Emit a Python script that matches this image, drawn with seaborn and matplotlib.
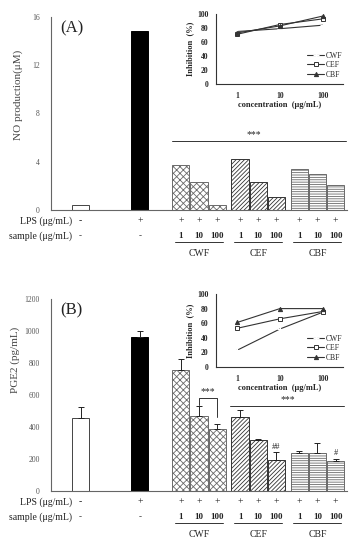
import numpy as np
import pandas as pd
import matplotlib
matplotlib.use("Agg")
import matplotlib.pyplot as plt
import seaborn as sns

sns.set_theme(style="white")
plt.rcParams['font.family'] = ['Liberation Serif', 'DejaVu Serif']
plt.rcParams['hatch.linewidth'] = 0.6

# ---------------- data ----------------
categories = ["ctrl", "LPS", "CWF", "CEF", "CBF"]
concs = ["1", "10", "100"]
groups = ["CWF", "CEF", "CBF"]

no_ctrl = 0.4
no_lps = 14.8
no_cwf = [3.75, 2.3, 0.42]
no_cef = [4.25, 2.35, 1.1]
no_cbf = [3.4, 2.95, 2.1]

pge_ctrl, pge_ctrl_sd = 455, 72
pge_lps, pge_lps_sd = 960, 37
pge_cwf = [755, 470, 388]
pge_cwf_sd = [68, 62, 33]
pge_cef = [460, 320, 195]
pge_cef_sd = [45, 8, 46]
pge_cbf = [236, 240, 190]
pge_cbf_sd = [15, 60, 9]

inh_conc = [1, 10, 100]
inhA_cwf = [75, 79, 84]
inhA_cef = [71, 85, 93]
inhA_cbf = [73, 83, 97]
inhB_cwf = [23, 52, 75]
inhB_cef = [53, 66, 76]
inhB_cbf = [61, 80, 80]

lps_row = ["-", "+", "+", "+", "+", "+", "+", "+", "+", "+", "+"]
sample_row = ["-", "-", "1", "10", "100", "1", "10", "100", "1", "10", "100"]


def make_df(ctrl, lps, g1, g2, g3, sd=None):
    rows = [("ctrl", "10", ctrl, sd[0] if sd else 0),
            ("LPS", "10", lps, sd[1] if sd else 0)]
    for gi, vals in enumerate([g1, g2, g3]):
        for ci, v in enumerate(vals):
            s = sd[2 + gi][ci] if sd else 0
            rows.append((groups[gi], concs[ci], v, s))
    return pd.DataFrame(rows, columns=["cat", "conc", "val", "sd"])


dfA = make_df(no_ctrl, no_lps, no_cwf, no_cef, no_cbf)
dfB = make_df(pge_ctrl, pge_lps, pge_cwf, pge_cef, pge_cbf,
              sd=[pge_ctrl_sd, pge_lps_sd, pge_cwf_sd, pge_cef_sd, pge_cbf_sd])

W, H = 350, 538
fig = plt.figure(figsize=(W / 100, H / 100), dpi=100)


def fr(l, t, r, b):
    return [l / W, 1 - b / H, (r - l) / W, (b - t) / H]


styles = {
    "ctrl": dict(facecolor="white", edgecolor="#444444", hatch=None),
    "LPS": dict(facecolor="black", edgecolor="black", hatch=None),
    "CWF": dict(facecolor="white", edgecolor="#6a6a6a", hatch="xxxxx"),
    "CEF": dict(facecolor="white", edgecolor="#333333", hatch="////////"),
    "CBF": dict(facecolor="white", edgecolor="#6a6a6a", hatch="-------"),
}


def main_panel(rect, df, ylim, yticks, letter, ylabel, ylabel_xy, errors=False):
    ax = fig.add_axes(rect)
    sns.barplot(data=df, x="cat", y="val", hue="conc", order=categories,
                hue_order=concs, dodge=True, width=0.92, gap=0.05,
                errorbar=None, legend=False, ax=ax)
    centers = {}
    for p in ax.patches:
        cx = p.get_x() + p.get_width() / 2
        ci = int(round(cx))
        off = cx - ci
        hi = 0 if off < -0.1 else (2 if off > 0.1 else 1)
        cat = categories[ci]
        st = styles[cat]
        p.set_facecolor(st["facecolor"])
        p.set_edgecolor(st["edgecolor"])
        p.set_linewidth(0.7)
        if st["hatch"]:
            p.set_hatch(st["hatch"])
        centers[(cat, concs[hi])] = (cx, p.get_height())
    if errors:
        xs, ys, es = [], [], []
        for _, r in df.iterrows():
            cx, h = centers[(r["cat"], r["conc"])]
            xs.append(cx); ys.append(h); es.append(r["sd"])
        ax.errorbar(xs, ys, yerr=[np.zeros(len(es)), es], fmt="none",
                    ecolor="#222222", elinewidth=0.7, capsize=2, capthick=0.7)
    ax.set_xlim(-0.5, 4.5)
    ax.set_ylim(*ylim)
    ax.set_yticks(yticks)
    ax.tick_params(axis="y", labelsize=5.5, labelcolor="#555555", length=0, pad=8)
    ax.set_xticks([0.5, 1.5, 2.5, 3.5])
    ax.set_xticklabels([])
    ax.tick_params(axis="x", direction="in", length=3, color="#666666")
    ax.set_xlabel("")
    ax.set_ylabel("")
    for s in ["top", "right"]:
        ax.spines[s].set_visible(False)
    for s in ["left", "bottom"]:
        ax.spines[s].set_color("#666666")
        ax.spines[s].set_linewidth(0.8)
    ax.text(0.03, 0.98, letter, transform=ax.transAxes, fontsize=12,
            va="top", ha="left", color="#222222")
    fig.text(ylabel_xy[0] / W, 1 - ylabel_xy[1] / H, ylabel, rotation=90,
             ha="center", va="center", fontsize=8, color="#444444")

    # row labels below axis
    bx = [centers[("ctrl", "10")][0], centers[("LPS", "10")][0]]
    for g in groups:
        for c in concs:
            bx.append(centers[(g, c)][0])
    tr = ax.get_xaxis_transform()
    axh = rect[3] * H
    y1 = -11 / axh
    y2 = -26 / axh
    yl = -31.5 / axh
    yg = -39 / axh
    ax.text(-0.14, y1, "LPS (μg/mL)", transform=tr, ha="right", va="center",
            fontsize=7, color="#222222")
    ax.text(-0.14, y2, "sample (μg/mL)", transform=tr, ha="right", va="center",
            fontsize=7, color="#222222")
    for i, x in enumerate(bx):
        ax.text(x, y1, lps_row[i], transform=tr, ha="center", va="center",
                fontsize=7, color="#222222")
        ax.text(x, y2, sample_row[i], transform=tr, ha="center", va="center",
                fontsize=6.5, color="#222222",
                fontweight="bold" if sample_row[i] != "-" else "normal")
    for gi, g in enumerate(groups):
        x0 = centers[(g, "1")][0] - 0.1
        x1 = centers[(g, "100")][0] + 0.1
        ax.plot([x0, x1], [yl, yl], transform=tr, color="#333333", lw=0.7,
                clip_on=False)
        ax.text(gi + 2, yg, g, transform=tr, ha="center", va="top",
                fontsize=7, color="#222222")
    return ax, centers


def inset(rect, cwf, cef, cbf):
    ax = fig.add_axes(rect)
    sns.lineplot(x=inh_conc, y=cwf, marker="+", color="#333333", lw=0.8,
                 markersize=4, mew=0.8, label="CWF", ax=ax)
    sns.lineplot(x=inh_conc, y=cef, marker="s", color="#333333", lw=0.8,
                 markersize=3, mfc="white", mec="#333333", mew=0.7,
                 label="CEF", ax=ax)
    sns.lineplot(x=inh_conc, y=cbf, marker="^", color="#333333", lw=0.8,
                 markersize=3, mec="#333333", label="CBF", ax=ax)
    ax.set_xscale("log")
    ax.set_xlim(0.32, 300)
    ax.set_ylim(0, 100)
    ax.set_yticks([0, 20, 40, 60, 80, 100])
    ax.set_xticks([1, 10, 100])
    ax.set_xticklabels(["1", "10", "100"])
    ax.minorticks_off()
    ax.tick_params(labelsize=5.5, length=2, width=0.6, color="#333333")
    for lab in ax.get_xticklabels() + ax.get_yticklabels():
        lab.set_fontweight("bold")
    ax.set_xlabel("concentration  (μg/mL)", fontsize=6, fontweight="bold",
                  labelpad=1)
    ax.set_ylabel("Inhibition  (%)", fontsize=6, fontweight="bold", labelpad=2)
    ax.patch.set_alpha(0)
    for s in ["top", "right"]:
        ax.spines[s].set_visible(False)
    for s in ["left", "bottom"]:
        ax.spines[s].set_color("#333333")
        ax.spines[s].set_linewidth(0.8)
    ax.legend(loc="lower right", bbox_to_anchor=(1.04, 0.0), frameon=False,
              fontsize=5.5, handlelength=2.2, labelspacing=0.2,
              handletextpad=0.3, borderpad=0.2)
    return ax


# Panel A
axA, cA = main_panel(fr(51, 17, 347, 210), dfA, (0, 16), [0, 4, 8, 12, 16],
                     "(A)", "NO production(μM)", (18, 95))
axA.plot([1.55, 4.48], [5.72, 5.72], color="#333333", lw=0.7)
axA.text(2.92, 5.85, "***", ha="center", va="bottom", fontsize=7)
inset(fr(216, 14, 343, 84), inhA_cwf, inhA_cef, inhA_cbf)

# Panel B
axB, cB = main_panel(fr(51, 299, 347, 491), dfB, (0, 1200),
                     [0, 200, 400, 600, 800, 1000, 1200],
                     "(B)", "PGE2 (pg/mL)", (15, 360), errors=True)
x10 = cB[("CWF", "10")][0]
x100 = cB[("CWF", "100")][0]
axB.plot([x10, x10, x100, x100], [537, 579, 579, 464], color="#333333", lw=0.7)
axB.text((x10 + x100) / 2, 592, "***", ha="center", va="bottom", fontsize=7)
axB.plot([2.53, 4.45], [531, 531], color="#333333", lw=0.7)
axB.text(3.5, 545, "***", ha="center", va="bottom", fontsize=7)
xc, hc = cB[("CEF", "100")]
axB.text(xc, hc + pge_cef_sd[2] + 12, "##", ha="center", va="bottom", fontsize=6)
xc, hc = cB[("CBF", "100")]
axB.text(xc, hc + pge_cbf_sd[2] + 12, "#", ha="center", va="bottom", fontsize=6)
inset(fr(216, 294, 343, 367), inhB_cwf, inhB_cef, inhB_cbf)

fig.savefig("out.png", dpi=100)
